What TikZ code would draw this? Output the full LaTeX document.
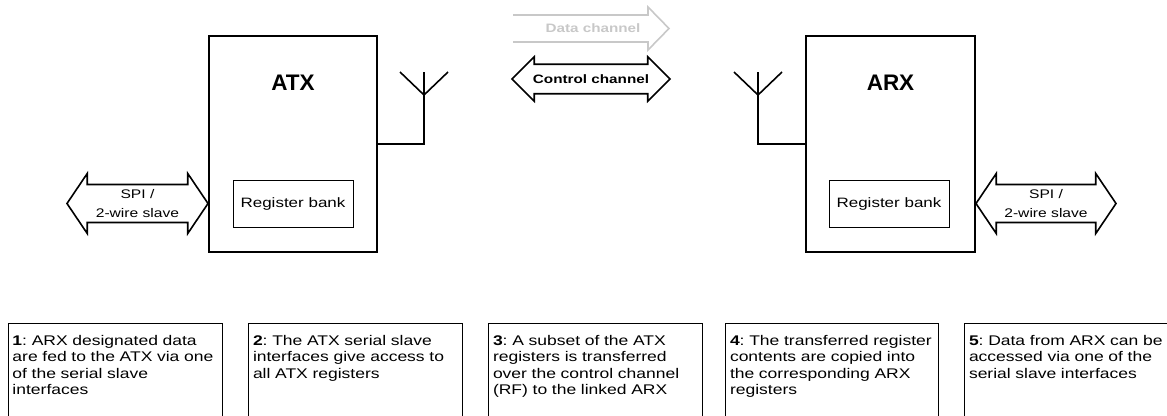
\documentclass[tikz,border=0pt]{standalone}
\usepackage{fontspec}
\setmainfont{Liberation Sans}
\newfontfamily\notefont[FakeStretch=1.25]{Liberation Sans}
\usetikzlibrary{shapes.arrows,positioning}
\definecolor{datagray}{RGB}{200,200,200}
\frenchspacing
\hyphenpenalty=10000

\begin{document}
\begin{tikzpicture}[x=1pt,y=-1pt,
    unit/.style={rectangle,draw,line width=1.6pt,minimum width=168pt,minimum height=216pt},
    unit name/.style={font=\bfseries\fontsize{22.5}{26}\selectfont},
    bank/.style={rectangle,draw,line width=1pt,minimum width=120pt,minimum height=47pt,
        font=\notefont\fontsize{13.6}{16}\selectfont},
    wire/.style={draw,line width=1.6pt},
    fat/.style={double arrow,draw,line width=1.6pt,inner xsep=0pt,align=center},
    note/.style={rectangle,draw,line width=1pt,anchor=north west,align=left,
        inner xsep=4.5pt,inner ysep=12pt,text depth=70pt,
        font=\notefont\fontsize{14}{16.3}\selectfont}]
\useasboundingbox (0,0) rectangle (1167,415);

% transmitter and receiver
\node[unit] (atx) at (293,144) {};
\node[unit name] (atxname) [below=36pt of atx.north] {ATX};
\node[bank] (atxbank) at (293,203.5) {Register bank};
\node[unit,minimum width=169pt] (arx) at (890.5,144) {};
\node[unit name] (arxname) [below=36pt of arx.north] {ARX};
\node[bank] (arxbank) at (889,203.5) {Register bank};

% antennas
\coordinate (atxmast) at (424,72);
\coordinate (atxfork) at (424,95);
\coordinate (arxmast) at (758,72);
\coordinate (arxfork) at (758,95);
\draw[wire] (atx.east) -| (atxmast);
\draw[wire] (atxfork) -- ++(-24,-23) (atxfork) -- ++(24,-23);
\draw[wire] (arx.west) -| (arxmast);
\draw[wire] (arxfork) -- ++(-24,-23) (arxfork) -- ++(24,-23);

% serial interfaces
\node[fat,minimum height=141pt,inner ysep=4.3pt,double arrow head extend=11pt,
    double arrow tip angle=112,font=\notefont\fontsize{12.5}{18.7}\selectfont]
    (spiatx) at (137.5,203.5) {SPI /\\2-wire slave};
\node[fat,minimum height=140pt,inner ysep=4.3pt,double arrow head extend=11pt,
    double arrow tip angle=112,font=\notefont\fontsize{12.5}{18.7}\selectfont]
    (spiarx) at (1046,203.5) {SPI /\\2-wire slave};

% radio link
\node[fat,minimum height=158pt,inner ysep=9.5pt,double arrow head extend=7.5pt,
    double arrow tip angle=90,font=\notefont\bfseries\fontsize{12.2}{15}\selectfont]
    (control) at (591,79) {Control channel};
\node[text=datagray,font=\notefont\bfseries\fontsize{12.2}{15}\selectfont]
    (data) at (593,28.5) {Data channel};
\draw[datagray,line width=1.6pt] (data.center) ++(-80,-13.5) -- ++(135,0) -- ++(0,-8)
    -- ++(21,21.5) -- ++(-21,21.5) -- ++(0,-8) -- ++(-135,0);

% notes
\node[note,text width=205.5pt] (n1) at (7.5,323)
    {\textbf{1}: ARX designated data\\are fed to the ATX via one\\of the serial slave\\interfaces};
\node[note,text width=205pt] (n2) [right=25pt of n1]
    {\textbf{2}: The ATX serial slave\\interfaces give access to\\all ATX registers};
\node[note,text width=205pt] (n3) [right=25pt of n2]
    {\textbf{3}: A subset of the ATX\\registers is transferred\\over the control channel\\(RF) to the linked ARX};
\node[note,text width=204pt] (n4) [right=22pt of n3]
    {\textbf{4}: The transferred register\\contents are copied into\\the corresponding ARX\\registers};
\node[note,text width=206pt] (n5) [right=25pt of n4]
    {\textbf{5}: Data from ARX can be\\accessed via one of the\\serial slave interfaces};

\end{tikzpicture}
\end{document}
